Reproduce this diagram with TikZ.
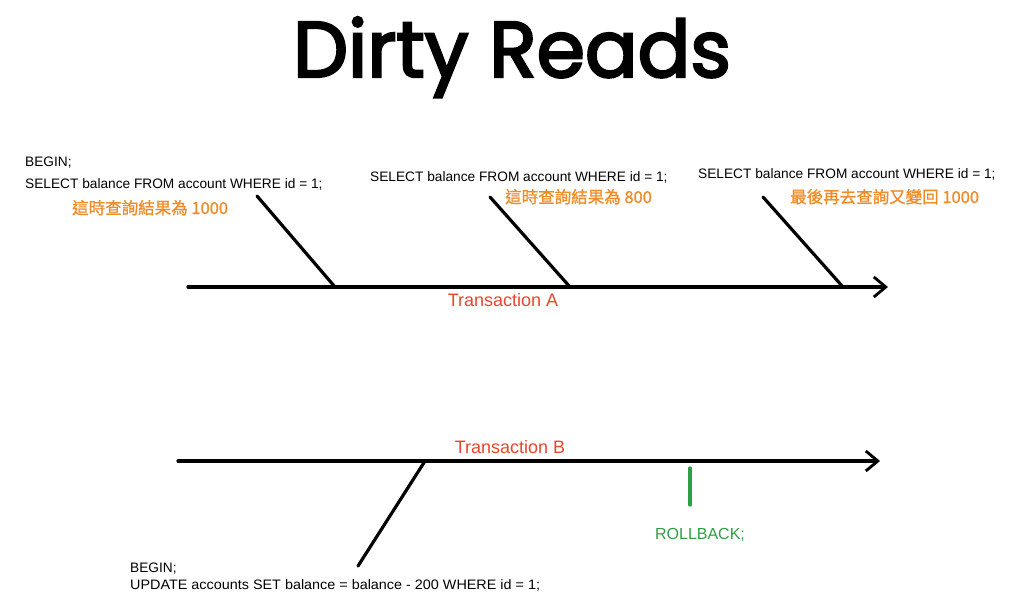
\documentclass[tikz,border=0pt]{standalone}
\usepackage{fontspec}
\setmainfont{Liberation Sans}
\newfontfamily\cjkfont[FakeBold=1.2]{Noto Sans CJK TC}
\newfontfamily\titlefont[FakeBold=3]{Poppins}
\usetikzlibrary{arrows.meta}
\definecolor{hlorange}{HTML}{F08C28}
\definecolor{txred}{HTML}{E8452C}
\definecolor{rbgreen}{HTML}{2F9E44}
\tikzset{
  code/.style={anchor=base west, inner sep=0pt, font=\fontsize{13.7}{15}\selectfont, align=left},
  note/.style={anchor=base west, inner sep=0pt, text=hlorange, font=\cjkfont\fontsize{16.5}{18}\selectfont},
  txlabel/.style={anchor=base, inner sep=0pt, text=txred, font=\fontsize{18}{20}\selectfont},
  timeline/.style={line width=3.2pt, line cap=round, -{Straight Barb[length=12pt,width=20pt,line width=2.8pt]}},
  tick/.style={line width=3.2pt, line cap=round},
}
\begin{document}
\begin{tikzpicture}[x=1pt,y=-1pt]
\useasboundingbox (0,0) rectangle (1024,610);
% title
\node[anchor=base, inner sep=0pt] (title) at (512,77) {\resizebox{438pt}{60pt}{\titlefont\fontsize{60}{70}\selectfont Dirty Reads}};
% Transaction A
\coordinate (aStart) at (188,287);
\coordinate (aEnd) at (888,287);
\draw[timeline] (aStart) -- (aEnd);
\node[txlabel] (txA) at (503,306) {Transaction A};
% step 1
\node[code] (begin1) at (25,166) {BEGIN;};
\node[code] (sel1) at (25,188) {SELECT balance FROM account WHERE id = 1;};
\node[note] (res1) at (72,214) {這時查詢結果為 1000};
\coordinate (t1top) at (257,196);
\coordinate (t1bot) at (335,287);
\draw[tick] (t1top) -- (t1bot);
% step 2
\node[code] (sel2) at (370,181) {SELECT balance FROM account WHERE id = 1;};
\node[note] (res2) at (505,203) {這時查詢結果為 800};
\coordinate (t2top) at (490,197);
\coordinate (t2bot) at (570,287);
\draw[tick] (t2top) -- (t2bot);
% step 3
\node[code] (sel3) at (698,178) {SELECT balance FROM account WHERE id = 1;};
\node[note] (res3) at (790,203) {最後再去查詢又變回 1000};
\coordinate (t3top) at (763,197);
\coordinate (t3bot) at (843,287);
\draw[tick] (t3top) -- (t3bot);
% Transaction B
\coordinate (bStart) at (178,461);
\coordinate (bEnd) at (880,461);
\draw[timeline] (bStart) -- (bEnd);
\node[txlabel] (txB) at (510,453) {Transaction B};
\coordinate (ubTop) at (425,461);
\coordinate (ubBot) at (358,566);
\draw[tick] (ubTop) -- (ubBot);
\node[code] (begin2) at (130,572) {BEGIN;};
\node[code] (upd) at (130,589) {\scalebox{1.05}[1]{UPDATE accounts SET balance = balance - 200 WHERE id = 1;}};
% rollback
\coordinate (rbTop) at (690,468);
\coordinate (rbBot) at (690,505);
\draw[tick, rbgreen] (rbTop) -- (rbBot);
\node[txlabel, text=rbgreen, font=\fontsize{16}{18}\selectfont] (rb) at (700,539) {ROLLBACK;};
\end{tikzpicture}
\end{document}
